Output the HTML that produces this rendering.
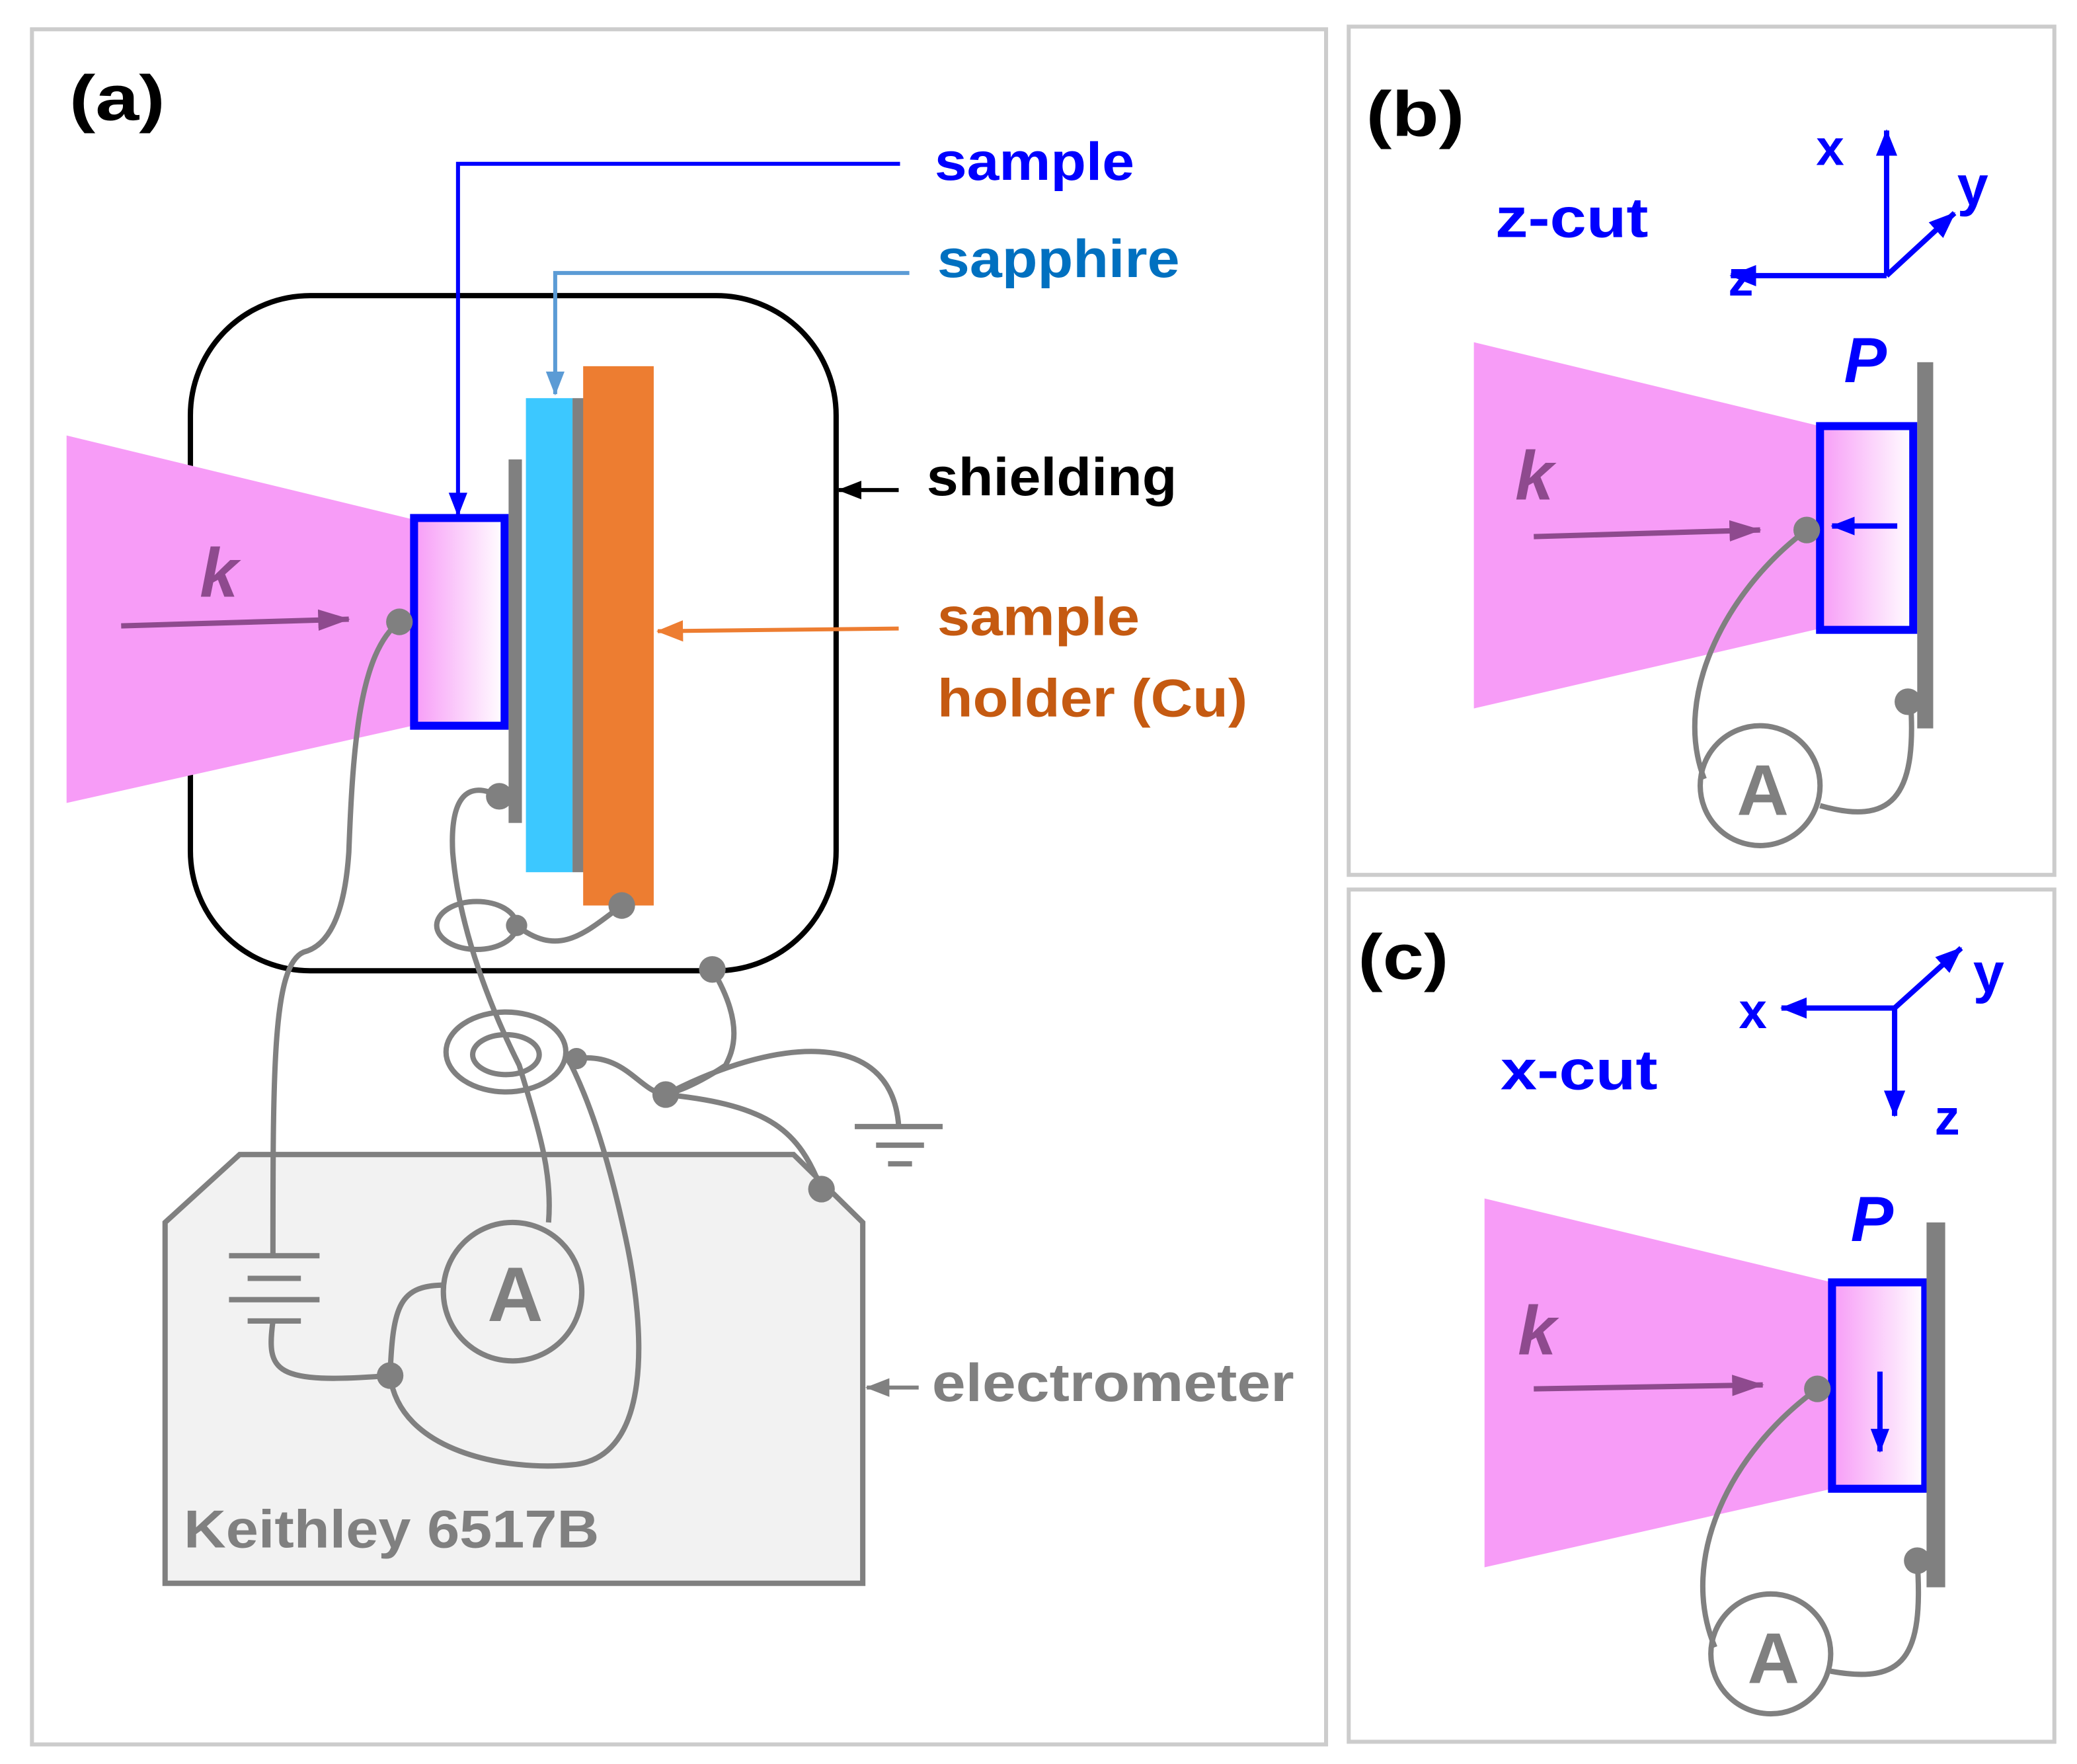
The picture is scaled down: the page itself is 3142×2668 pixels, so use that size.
<!DOCTYPE html>
<html><head><meta charset="utf-8"><style>
html,body{margin:0;padding:0;background:#fff}
svg{display:block}
text{font-family:"Liberation Sans",sans-serif;font-weight:bold}
</style></head><body>
<svg width="3142" height="2668" viewBox="0 0 1560 1324.7" preserveAspectRatio="none" xmlns="http://www.w3.org/2000/svg">
<defs>
<linearGradient id="g" x1="0" y1="0" x2="1" y2="0"><stop offset="0" stop-color="#f79cf7"/><stop offset="1" stop-color="#ffffff"/></linearGradient>
<marker id="ab" markerWidth="20" markerHeight="18" refX="19" refY="9" orient="auto" markerUnits="userSpaceOnUse"><path d="M0,1 L20,9 L0,17 Z" fill="#0000ff"/></marker>
<marker id="ab2" markerWidth="18" markerHeight="16" refX="17" refY="8" orient="auto" markerUnits="userSpaceOnUse"><path d="M0,1 L18,8 L0,15 Z" fill="#0000ff"/></marker>
<marker id="al" markerWidth="18" markerHeight="16" refX="17" refY="8" orient="auto" markerUnits="userSpaceOnUse"><path d="M0,1 L18,8 L0,15 Z" fill="#5b9bd5"/></marker>
<marker id="ak" markerWidth="18" markerHeight="16" refX="17" refY="8" orient="auto" markerUnits="userSpaceOnUse"><path d="M0,1 L18,8 L0,15 Z" fill="#000"/></marker>
<marker id="ao" markerWidth="20" markerHeight="18" refX="19" refY="9" orient="auto" markerUnits="userSpaceOnUse"><path d="M0,1 L20,9 L0,17 Z" fill="#ed7d31"/></marker>
<marker id="ag" markerWidth="18" markerHeight="16" refX="17" refY="8" orient="auto" markerUnits="userSpaceOnUse"><path d="M0,1 L18,8 L0,15 Z" fill="#808080"/></marker>
<marker id="ap" markerWidth="24" markerHeight="18" refX="23" refY="9" orient="auto" markerUnits="userSpaceOnUse"><path d="M0,1 L24,9 L0,17 Z" fill="#8e4a8e"/></marker>
</defs>
<rect x="24" y="22" width="972" height="1288" fill="none" stroke="#ccc" stroke-width="3"/>
<rect x="1013" y="20" width="530" height="637" fill="none" stroke="#ccc" stroke-width="3"/>
<rect x="1013" y="668" width="530" height="640" fill="none" stroke="#ccc" stroke-width="3"/>

<!-- (a) -->
<text x="52" y="90" font-size="48" textLength="72" lengthAdjust="spacingAndGlyphs">(a)</text>
<polygon points="180,867 596,867 648,918 648,1189 124,1189 124,918" fill="#f2f2f2" stroke="#808080" stroke-width="4"/>
<text x="138" y="1162" font-size="40" fill="#808080" textLength="312" lengthAdjust="spacingAndGlyphs">Keithley 6517B</text>
<rect x="143" y="222" width="485" height="507" rx="90" ry="90" fill="none" stroke="#000" stroke-width="4"/>
<polygon points="50,327 310,390 310,545 50,603" fill="#f79cf7"/>
<rect x="311" y="389" width="68" height="156" fill="url(#g)" stroke="#0000ff" stroke-width="6"/>
<rect x="382" y="345" width="10" height="273" fill="#808080"/>
<rect x="395" y="299" width="35" height="356" fill="#3cc8ff"/>
<rect x="430" y="299" width="10" height="356" fill="#808080"/>
<rect x="438" y="275" width="53" height="405" fill="#ed7d31"/>
<text x="150" y="448" font-size="52" fill="#8e4a8e" font-style="italic">k</text>
<line x1="91" y1="470" x2="262" y2="465" stroke="#8e4a8e" stroke-width="4" marker-end="url(#ap)"/>

<polyline points="676,123 344,123 344,387" fill="none" stroke="#0000ff" stroke-width="3" marker-end="url(#ab2)"/>
<text x="702" y="135" font-size="40" fill="#0000ff" textLength="150" lengthAdjust="spacingAndGlyphs">sample</text>
<polyline points="683,205 417,205 417,296" fill="none" stroke="#5b9bd5" stroke-width="3" marker-end="url(#al)"/>
<text x="704" y="208" font-size="40" fill="#0070c0" textLength="182" lengthAdjust="spacingAndGlyphs">sapphire</text>
<line x1="675" y1="368" x2="630" y2="368" stroke="#000" stroke-width="3" marker-end="url(#ak)"/>
<text x="696" y="372" font-size="40" fill="#000" textLength="188" lengthAdjust="spacingAndGlyphs">shielding</text>
<line x1="675" y1="472" x2="494" y2="474" stroke="#ed7d31" stroke-width="3" marker-end="url(#ao)"/>
<text x="704" y="477" font-size="40" fill="#c55a11" textLength="152" lengthAdjust="spacingAndGlyphs">sample</text>
<text x="704" y="538" font-size="40" fill="#c55a11" textLength="233" lengthAdjust="spacingAndGlyphs">holder (Cu)</text>
<line x1="690" y1="1042" x2="651" y2="1042" stroke="#808080" stroke-width="3" marker-end="url(#ag)"/>
<text x="700" y="1052" font-size="40" fill="#808080" textLength="272" lengthAdjust="spacingAndGlyphs">electrometer</text>

<g fill="none" stroke="#808080" stroke-width="4">
<path d="M300,467 C270,490 265,560 262,640 C258,700 240,712 228,715 C205,725 205,800 205,943"/>
<line x1="172" y1="943" x2="240" y2="943"/>
<line x1="186" y1="960" x2="226" y2="960"/>
<line x1="172" y1="976" x2="240" y2="976"/>
<line x1="186" y1="992" x2="226" y2="992"/>
<path d="M205,992 C200,1030 205,1040 293,1033"/>
<path d="M293,1033 C295,980 300,965 335,965"/>
<circle cx="385" cy="970" r="52"/>
<path d="M293,1033 C300,1090 380,1105 430,1100 C490,1095 485,1000 470,930 C455,860 440,820 425,792"/>
<ellipse cx="380" cy="790" rx="45" ry="30"/>
<ellipse cx="380" cy="792" rx="25" ry="15"/>
<path d="M375,598 C350,585 338,600 340,640 C345,700 370,760 390,800 C405,850 415,880 412,918"/>
<ellipse cx="358" cy="695" rx="30" ry="18"/>
<path d="M388,695 C420,720 440,700 467,680"/>
<path d="M535,728 C560,770 550,790 545,800 C530,810 515,818 500,822"/>
<path d="M433,795 C470,790 480,820 500,822"/>
<path d="M500,822 C580,780 670,770 675,846"/>
<line x1="642" y1="846" x2="708" y2="846"/>
<line x1="658" y1="860" x2="694" y2="860"/>
<line x1="667" y1="874" x2="685" y2="874"/>
<path d="M500,822 C580,830 600,850 617,893"/>
</g>
<text x="387" y="992" font-size="58" fill="#808080" text-anchor="middle">A</text>
<g fill="#808080">
<circle cx="300" cy="467" r="10"/><circle cx="375" cy="598" r="10"/><circle cx="388" cy="695" r="8"/>
<circle cx="467" cy="680" r="10"/><circle cx="535" cy="728" r="10"/><circle cx="433" cy="795" r="8"/>
<circle cx="500" cy="822" r="10"/><circle cx="617" cy="893" r="10"/><circle cx="293" cy="1033" r="10"/>
</g>

<!-- (b) -->
<text x="1026" y="102" font-size="48" textLength="74" lengthAdjust="spacingAndGlyphs">(b)</text>
<text x="1123" y="178" font-size="42" fill="#0000ff" textLength="115" lengthAdjust="spacingAndGlyphs">z-cut</text>
<g stroke="#0000ff" stroke-width="4" fill="none">
<line x1="1417" y1="207" x2="1417" y2="98" marker-end="url(#ab)"/>
<line x1="1417" y1="207" x2="1300" y2="207" marker-end="url(#ab)"/>
<line x1="1417" y1="207" x2="1468" y2="160" marker-end="url(#ab)"/>
</g>
<text x="1364" y="124" font-size="38" fill="#0000ff" font-weight="normal">x</text>
<text x="1298" y="222" font-size="38" fill="#0000ff" font-weight="normal">z</text>
<text x="1470" y="154" font-size="42" fill="#0000ff" font-weight="normal">y</text>
<polygon points="1107,257 1367,320 1367,472 1107,532" fill="#f79cf7"/>
<rect x="1367" y="320" width="70" height="153" fill="url(#g)" stroke="#0000ff" stroke-width="6"/>
<rect x="1440" y="272" width="12" height="275" fill="#808080"/>
<text x="1385" y="287" font-size="48" fill="#0000ff" font-style="italic">P</text>
<text x="1138" y="375" font-size="52" fill="#8e4a8e" font-style="italic">k</text>
<line x1="1152" y1="403" x2="1322" y2="398" stroke="#8e4a8e" stroke-width="4" marker-end="url(#ap)"/>
<line x1="1425" y1="395" x2="1376" y2="395" stroke="#0000ff" stroke-width="4" marker-end="url(#ab2)"/>
<g fill="none" stroke="#808080" stroke-width="4">
<path d="M1357,398 C1300,440 1255,520 1280,585"/>
<circle cx="1322" cy="590" r="45"/>
<path d="M1367,605 C1420,620 1440,600 1435,527"/>
</g>
<text x="1324" y="612" font-size="54" fill="#808080" text-anchor="middle">A</text>
<circle cx="1357" cy="398" r="10" fill="#808080"/><circle cx="1433" cy="527" r="10" fill="#808080"/>

<!-- (c) -->
<text x="1020" y="735" font-size="48" textLength="68" lengthAdjust="spacingAndGlyphs">(c)</text>
<text x="1127" y="818" font-size="42" fill="#0000ff" textLength="118" lengthAdjust="spacingAndGlyphs">x-cut</text>
<g stroke="#0000ff" stroke-width="4" fill="none">
<line x1="1423" y1="757" x2="1338" y2="757" marker-end="url(#ab)"/>
<line x1="1423" y1="757" x2="1423" y2="838" marker-end="url(#ab)"/>
<line x1="1423" y1="757" x2="1473" y2="712" marker-end="url(#ab)"/>
</g>
<text x="1306" y="772" font-size="38" fill="#0000ff" font-weight="normal">x</text>
<text x="1453" y="852" font-size="38" fill="#0000ff" font-weight="normal">z</text>
<text x="1482" y="745" font-size="42" fill="#0000ff" font-weight="normal">y</text>
<polygon points="1115,900 1376,963 1376,1118 1115,1177" fill="#f79cf7"/>
<rect x="1376" y="963" width="70" height="155" fill="url(#g)" stroke="#0000ff" stroke-width="6"/>
<rect x="1447" y="918" width="14" height="274" fill="#808080"/>
<text x="1390" y="932" font-size="48" fill="#0000ff" font-style="italic">P</text>
<text x="1140" y="1017" font-size="52" fill="#8e4a8e" font-style="italic">k</text>
<line x1="1152" y1="1043" x2="1324" y2="1040" stroke="#8e4a8e" stroke-width="4" marker-end="url(#ap)"/>
<line x1="1412" y1="1030" x2="1412" y2="1090" stroke="#0000ff" stroke-width="4" marker-end="url(#ab2)"/>
<g fill="none" stroke="#808080" stroke-width="4">
<path d="M1365,1043 C1300,1090 1260,1170 1288,1237"/>
<circle cx="1330" cy="1242" r="45"/>
<path d="M1375,1255 C1430,1265 1445,1245 1440,1172"/>
</g>
<text x="1332" y="1264" font-size="54" fill="#808080" text-anchor="middle">A</text>
<circle cx="1365" cy="1043" r="10" fill="#808080"/><circle cx="1440" cy="1172" r="10" fill="#808080"/>
</svg>
</body></html>
